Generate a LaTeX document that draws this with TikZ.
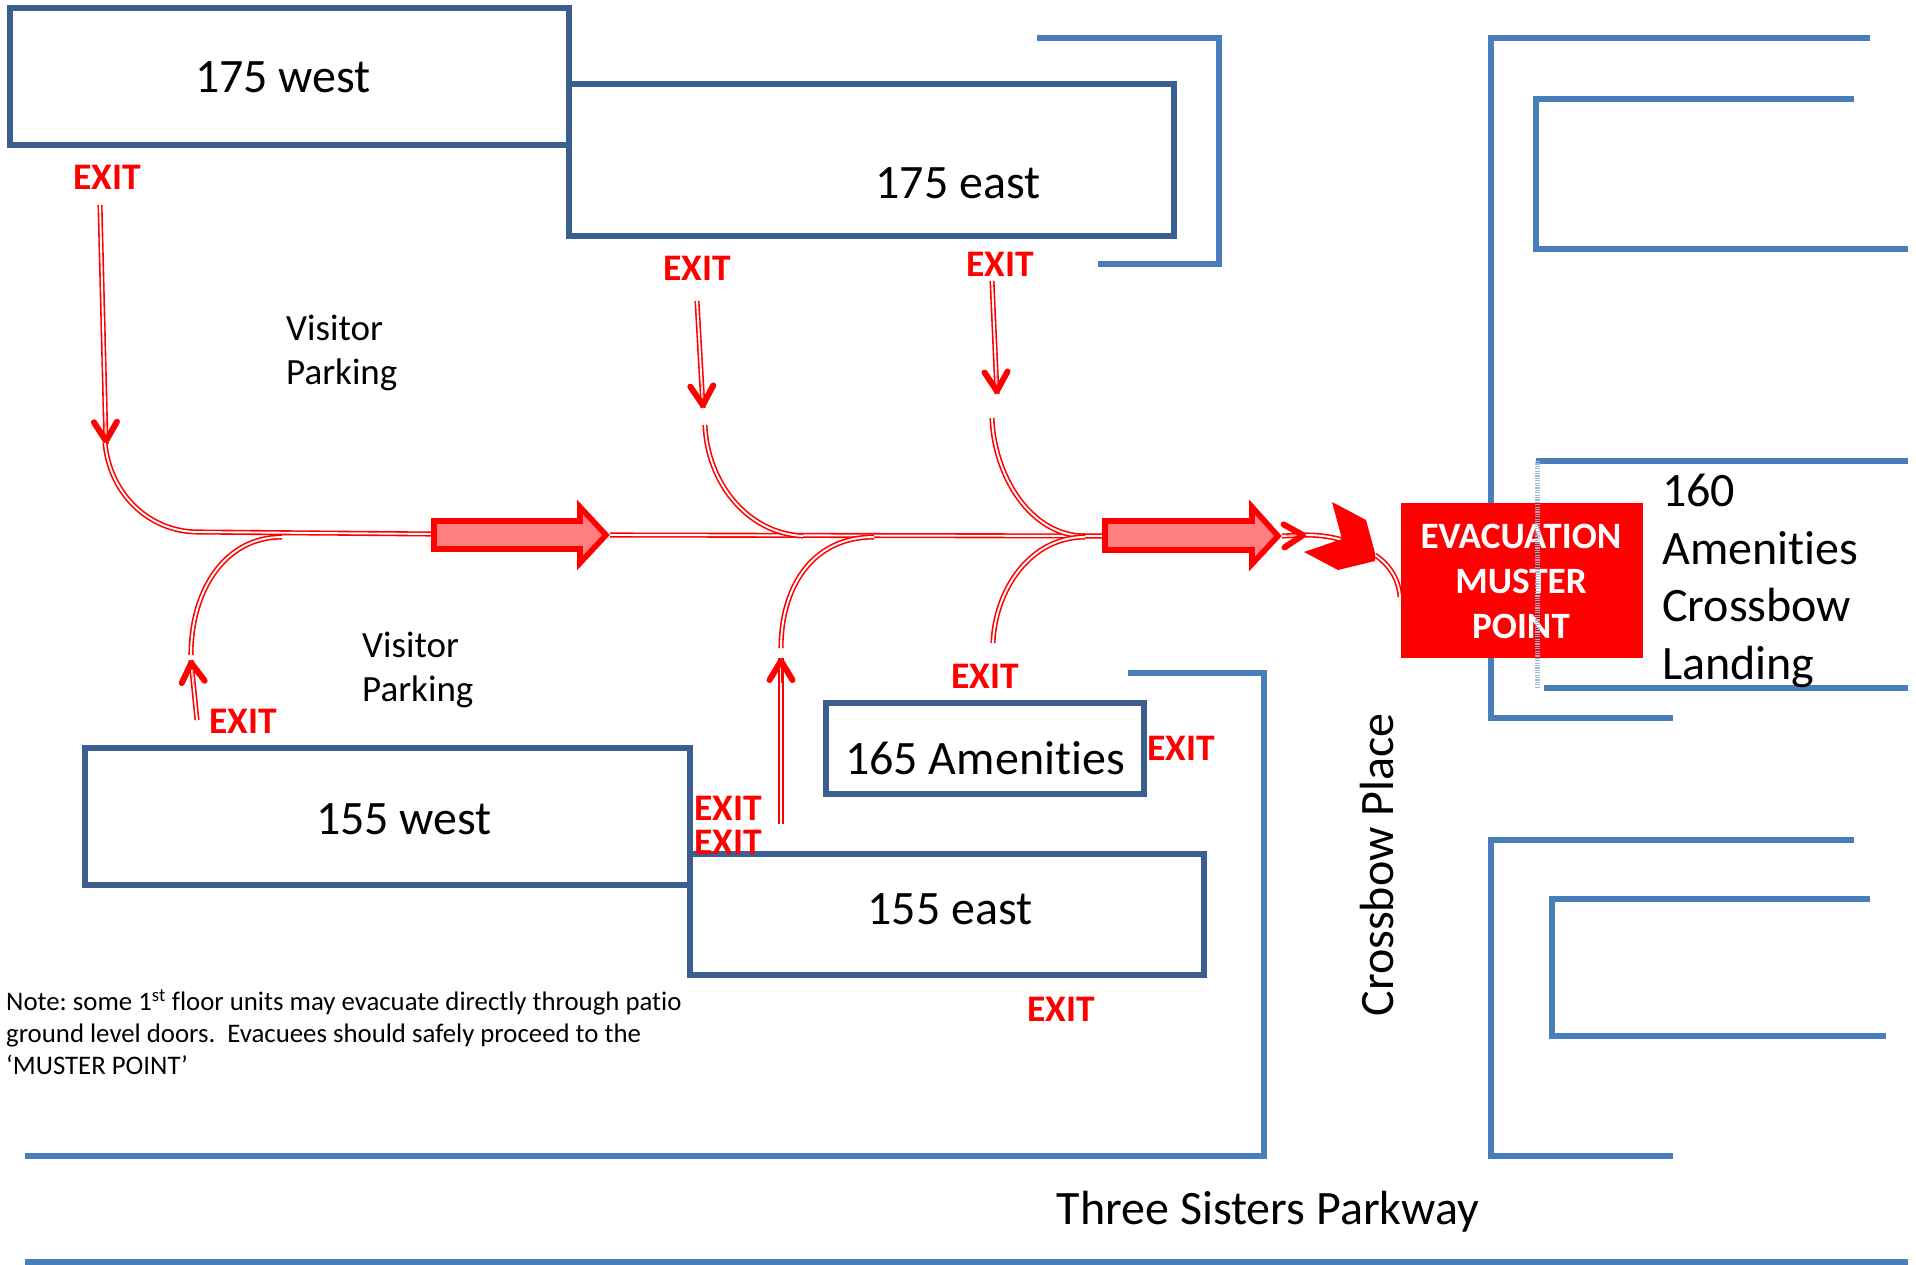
\documentclass[tikz,border=0pt]{standalone}
\usepackage{fontspec}
\setmainfont[Ligatures=NoCommon]{Carlito}
\usetikzlibrary{arrows.meta,calc}
\definecolor{darkb}{HTML}{3B6090}
\definecolor{lightb}{HTML}{4A7EBB}
\definecolor{pink}{HTML}{FF7F7F}
\tikzset{
 bldg/.style={draw=darkb,line width=5.6pt,anchor=north west,inner sep=0pt,outer sep=0pt,fill=none},
 wall/.style={draw=lightb,line width=5.8pt,miter limit=10},
 lab/.style={font=\fontsize{48}{57}\selectfont,inner sep=0pt,text=black},
 vis/.style={font=\fontsize{37}{44.5}\selectfont,inner sep=0pt,align=left,anchor=west},
 ex/.style={font=\fontsize{37.5}{40}\selectfont\bfseries,text=red,inner sep=0pt},
 dbl/.style={draw=red,double=white,line width=1.6pt,double distance=1.9pt},
 barb/.style={draw=red,line width=.2pt,-{Straight Barb[length=19pt,width=23pt,line width=6pt,round]}},
 blockarrow/.style={draw=red,line width=5.6pt,fill=pink,miter limit=10},
}
\begin{document}
\begin{tikzpicture}[x=1pt,y=-1pt]
\useasboundingbox (0,0) rectangle (1916,1265);
% buildings
\node[bldg,minimum width=559pt,minimum height=137pt] (w175) at (10,8) {};
\node[bldg,minimum width=605pt,minimum height=152pt] (e175) at (569,84) {};
\node[bldg,minimum width=605pt,minimum height=137pt] (w155) at (85,748) {};
\node[bldg,minimum width=514pt,minimum height=121pt] (e155) at (690,854) {};
\node[bldg,minimum width=318pt,minimum height=91pt] (a165) at (826,703) {};
\node[lab] (t1) at (283,77) {175 west};
\node[lab] (t2) at (958,183) {175 east};
\node[lab] (t3) at (404,819) {155 west};
\node[lab] (t4) at (950,909) {155 east};
\node[lab] (t5) at (985,758) {165 Amenities};
% walls
\draw[wall] (1037,38) -- (1219,38) -- (1219,264) -- (1098,264);
\draw[wall] (1870,38) -- (1491,38) -- (1491,718) -- (1673,718);
\draw[wall] (1854,99) -- (1536,99) -- (1536,249) -- (1908,249);
\draw[wall] (1908,461) -- (1536,461);
\draw[wall] (1544,688) -- (1908,688);
\draw[wall] (1128,673) -- (1264,673) -- (1264,1156) -- (25,1156);
\draw[wall] (1854,840) -- (1491,840) -- (1491,1156) -- (1673,1156);
\draw[wall] (1870,899) -- (1552,899) -- (1552,1036) -- (1886,1036);
\draw[wall] (25,1262) -- (1908,1262);
% labels
\node[vis] (v1) at (286,353) {Visitor\\Parking};
\node[vis] (v2) at (362,670) {Visitor\\Parking};
\node[lab,rotate=90] (cp) at (1377,865) {Crossbow Place};
\node[lab] (ts) at (1268,1212) {Three Sisters Parkway};
\node[inner sep=0pt,align=left,anchor=north west,font=\fontsize{26.8}{32}\selectfont] (note) at (6,989)
 {\frenchspacing Note: some 1\textsuperscript{st} floor units may evacuate directly through patio\\
  \frenchspacing ground level doors.\ \ Evacuees should safely proceed to the\\
  ‘MUSTER POINT’};
\node[lab,align=left,anchor=west,font=\fontsize{48}{57.5}\selectfont] (am) at (1662,581) {160\\Amenities\\Crossbow\\Landing};
% exits
\node[ex] (x1) at (107,177) {EXIT};
\node[ex] (x2) at (697,268) {EXIT};
\node[ex] (x3) at (1000,264) {EXIT};
\node[ex] (x4) at (243,721) {EXIT};
\node[ex] (x5) at (985,676) {EXIT};
\node[ex] (x6) at (1181,748) {EXIT};
\node[ex] (x7) at (728,808) {EXIT};
\node[ex] (x8) at (728,842) {EXIT};
\node[ex] (x9) at (1061,1009) {EXIT};
% muster
\node[fill=red,minimum width=242pt,minimum height=155pt,anchor=north west,inner sep=0pt,outer sep=0pt] (mp) at (1401,503) {};
\node[inner sep=0pt,text=white,align=center,font=\fontsize{37.2}{45}\selectfont\bfseries] (mt) at (1521,581) {EVACUATION\\MUSTER\\POINT};
% route coordinates
\coordinate (a1) at (100,205); \coordinate (a1e) at (106,444);
\coordinate (a2) at (197,720); \coordinate (a2e) at (191,660);
\coordinate (a3) at (697,301); \coordinate (a3e) at (703,408);
\coordinate (a4) at (992,281); \coordinate (a4e) at (997,394);
\coordinate (a5) at (781,824); \coordinate (a5e) at (781,658);
\coordinate (c1) at (105,443); \coordinate (c1e) at (198,532);
\coordinate (c2) at (191,655); \coordinate (c2e) at (282,537);
\coordinate (c3) at (705,425); \coordinate (c3e) at (803,536);
\coordinate (c4) at (992,418); \coordinate (c4e) at (1085,536);
\coordinate (c5) at (781,648); \coordinate (c5e) at (874,537);
\coordinate (c6) at (993,643); \coordinate (c6e) at (1085,537);
\coordinate (m1) at (432,534); \coordinate (m2) at (610,535); \coordinate (m3) at (1105,536);
\coordinate (e1) at (1282,536); \coordinate (e2) at (1306,535);
\coordinate (e3) at (1342,540); \coordinate (e4) at (1375,555); \coordinate (e5) at (1400,597);
% double routes
\draw[dbl] (a1) -- (a1e); \draw[barb] ($(a1e)!25pt!(a1)$) -- (a1e);
\draw[dbl] (a2) -- (a2e); \draw[barb] ($(a2e)!25pt!(a2)$) -- (a2e);
\draw[dbl] (a3) -- (a3e); \draw[barb] ($(a3e)!25pt!(a3)$) -- (a3e);
\draw[dbl] (a4) -- (a4e); \draw[barb] ($(a4e)!25pt!(a4)$) -- (a4e);
\draw[dbl] (a5) -- (a5e); \draw[barb] ($(a5e)!25pt!(a5)$) -- (a5e);
\draw[dbl] (c1) .. controls (110,495) and (150,532) .. (c1e) -- (m1);
\draw[dbl] (c2) .. controls (191,590) and (225,537) .. (c2e);
\draw[dbl] (m2) -- (m3);
\draw[dbl] (c3) .. controls (707,480) and (745,533) .. (c3e);
\draw[dbl] (c4) .. controls (994,475) and (1030,536) .. (c4e);
\draw[dbl] (c5) .. controls (781,590) and (810,537) .. (c5e);
\draw[dbl] (c6) .. controls (995,590) and (1030,537) .. (c6e);
\draw[dbl] (e1) -- (e2); \draw[barb] ($(e2)!20pt!(e1)$) -- (e2);
\draw[dbl] (e2) .. controls (1315,535) and (1330,536) .. (e3);
\draw[dbl] (e4) .. controls (1390,565) and (1399,580) .. (e5);
% block arrows
\draw[blockarrow] (434,521) -- (580,521) -- (580,507) -- (606,535) -- (580,563) -- (580,549) -- (434,549) -- cycle;
\draw[blockarrow] (1105,521) -- (1252,521) -- (1252,507) -- (1278,536) -- (1252,564) -- (1252,550) -- (1105,550) -- cycle;
% star shape
\fill[red] (1332,502) -- (1366,520) -- (1375,553) -- (1375,561) -- (1338,570) -- (1304,552) -- (1342,539) -- cycle;
% dotted selection edge
\draw[draw=lightb!55,line width=5pt,dash pattern=on 1.2pt off 1.2pt] (1537,461) -- (1537,688);
\end{tikzpicture}
\end{document}
